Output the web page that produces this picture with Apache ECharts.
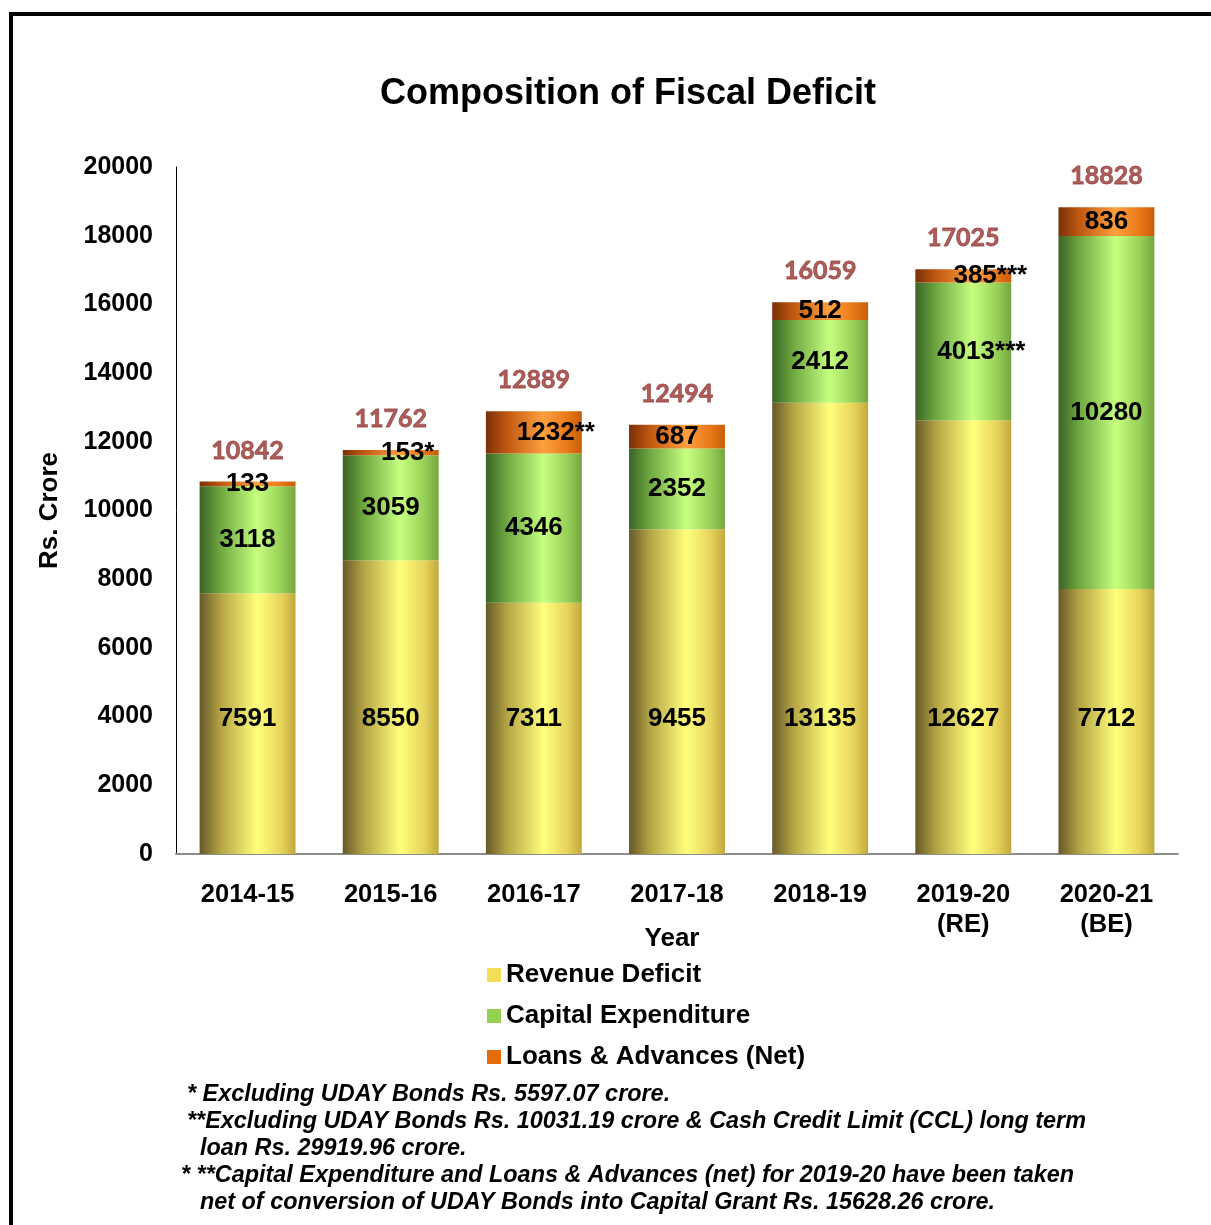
<!DOCTYPE html>
<html>
<head>
<meta charset="utf-8">
<script src="https://cdn.jsdelivr.net/npm/echarts@6/dist/echarts.min.js"></script>
<style>
html,body{margin:0;padding:0;background:#fff;}
#chart{width:1211px;height:1225px;}
</style>
</head>
<body>
<div id="chart"></div>
<script>
var categories = ['2014-15', '2015-16', '2016-17', '2017-18', '2018-19', '2019-20\n(RE)', '2020-21\n(BE)'];
var revenueDeficit = [7591, 8550, 7311, 9455, 13135, 12627, 7712];
var capitalExpenditure = [3118, 3059, 4346, 2352, 2412, 4013, 10280];
var loansAdvances = [133, 153, 1232, 687, 512, 385, 836];
var capitalSuffix = ['', '', '', '', '', '***', ''];
var loansSuffix = ['', '*', '**', '', '', '***', ''];
var yTicks = [0, 2000, 4000, 6000, 8000, 10000, 12000, 14000, 16000, 18000, 20000];
var footnotes = [
  '* Excluding UDAY Bonds Rs. 5597.07 crore.',
  '**Excluding UDAY Bonds Rs. 10031.19 crore & Cash Credit Limit (CCL) long term',
  'loan Rs. 29919.96 crore.',
  '* **Capital Expenditure and Loans & Advances (net) for 2019-20 have been taken',
  'net of conversion of UDAY Bonds into Capital Grant Rs. 15628.26 crore.'
];

var totals = revenueDeficit.map(function (v, i) { return v + capitalExpenditure[i] + loansAdvances[i]; });

function grad(stops) {
  return new echarts.graphic.LinearGradient(0, 0, 1, 0, stops.map(function (s) { return { offset: s[0], color: s[1] }; }));
}
var yellowGrad = grad([[0, '#66592a'], [0.22, '#b5a444'], [0.6, '#ffff7c'], [0.85, '#e6d45c'], [1, '#c2a83c']]);
var greenGrad = grad([[0, '#3a6325'], [0.22, '#6fa840'], [0.6, '#c6ff80'], [0.85, '#98d058'], [1, '#74a63e']]);
var orangeGrad = grad([[0, '#7a3008'], [0.22, '#c05810'], [0.6, '#ffa040'], [0.85, '#e87818'], [1, '#c85c08']]);

var FONT = 'Liberation Sans, Arial, sans-serif';
var segFont = { fontFamily: FONT, fontWeight: 'bold', fontSize: 26, color: '#000' };

function withSuffix(values, suffix, base) {
  return values.map(function (v, i) {
    var s = suffix[i];
    var item = { value: v };
    if (s) {
      item.label = { formatter: v + s, offset: [base + s.length * 5, 0] };
    }
    return item;
  });
}

var chart = echarts.init(document.getElementById('chart'));
var footX = [187, 187, 200, 181, 200];
var footGraphics = footnotes.map(function (t, i) {
  return {
    type: 'text',
    x: footX[i],
    y: 1095 + i * 26.8,
    style: {
      text: t,
      x: 0, y: 0,
      font: 'italic bold 23.4px "Liberation Sans", Arial, sans-serif',
      fill: '#000',
      textVerticalAlign: 'middle',
      textAlign: 'left'
    }
  };
});

var option = {
  animation: false,
  backgroundColor: '#fff',
  title: {
    text: 'Composition of Fiscal Deficit',
    left: 623,
    top: 71,
    textAlign: 'center',
    textStyle: { fontFamily: FONT, fontWeight: 'bold', fontSize: 36, color: '#000' }
  },
  legend: {
    orient: 'vertical',
    left: 487,
    top: 962,
    padding: 0,
    itemWidth: 14,
    itemHeight: 14,
    itemGap: 15,
    icon: 'rect',
    textStyle: { fontFamily: FONT, fontWeight: 'bold', fontSize: 26, lineHeight: 26, color: '#000' },
    data: [
      { name: 'Revenue Deficit', itemStyle: { color: '#f2df57' } },
      { name: 'Capital Expenditure', itemStyle: { color: '#92d050' } },
      { name: 'Loans & Advances (Net)', itemStyle: { color: '#e46c0a' } }
    ]
  },
  grid: { left: 176, right: 33, top: 167, bottom: 371, containLabel: false },
  xAxis: {
    type: 'category',
    data: categories,
    name: 'Year',
    nameLocation: 'middle',
    nameGap: 85,
    nameMoveOverlap: false,
    nameTextStyle: { fontFamily: FONT, fontWeight: 'bold', fontSize: 26, color: '#000', padding: [0, 10, 0, 0], verticalAlign: 'middle' },
    axisLine: { show: true, lineStyle: { color: '#8c8c8c', width: 2 } },
    axisTick: { show: false },
    axisLabel: { margin: 26, fontFamily: FONT, fontWeight: 'bold', fontSize: 25.5, lineHeight: 30, color: '#000', interval: 0 }
  },
  yAxis: {
    type: 'value',
    min: yTicks[0],
    max: yTicks[yTicks.length - 1],
    interval: yTicks[1] - yTicks[0],
    name: 'Rs. Crore',
    nameLocation: 'middle',
    nameGap: 113,
    nameMoveOverlap: false,
    nameTextStyle: { fontFamily: FONT, fontWeight: 'bold', fontSize: 26, color: '#000' },
    splitLine: { show: false },
    axisLine: { show: true, lineStyle: { color: '#000', width: 1 } },
    axisTick: { show: false },
    axisLabel: { margin: 23, fontFamily: FONT, fontWeight: 'bold', fontSize: 25, color: '#000', formatter: function (v) { return String(v); } }
  },
  series: [
    {
      name: 'Revenue Deficit', type: 'bar', stack: 'fd', barCategoryGap: '33%',
      itemStyle: { color: yellowGrad },
      label: Object.assign({ show: true, position: 'insideBottom', distance: 122 }, segFont),
      data: revenueDeficit
    },
    {
      name: 'Capital Expenditure', type: 'bar', stack: 'fd',
      itemStyle: { color: greenGrad },
      label: Object.assign({ show: true, position: 'inside' }, segFont),
      data: withSuffix(capitalExpenditure, capitalSuffix, 3)
    },
    {
      name: 'Loans & Advances (Net)', type: 'bar', stack: 'fd',
      itemStyle: { color: orangeGrad },
      label: Object.assign({ show: true, position: 'inside' }, segFont),
      data: withSuffix(loansAdvances, loansSuffix, 12)
    },
    {
      name: 'Total', type: 'scatter', symbolSize: 1,
      itemStyle: { color: 'rgba(0,0,0,0)' },
      label: { show: true, position: 'top', distance: 18, fontFamily: 'Lato, sans-serif', fontWeight: 'bold', fontSize: 25, color: '#953735', textBorderColor: '#953735', textBorderWidth: 0.8 },
      data: totals,
      z: 5
    }
  ],
  graphic: [
    { type: 'rect', shape: { x: 11, y: 14, width: 1400, height: 1400 }, style: { fill: 'none', stroke: '#000', lineWidth: 4 }, silent: true }
  ].concat(footGraphics)
};
chart.setOption(option);
</script>
</body>
</html>
